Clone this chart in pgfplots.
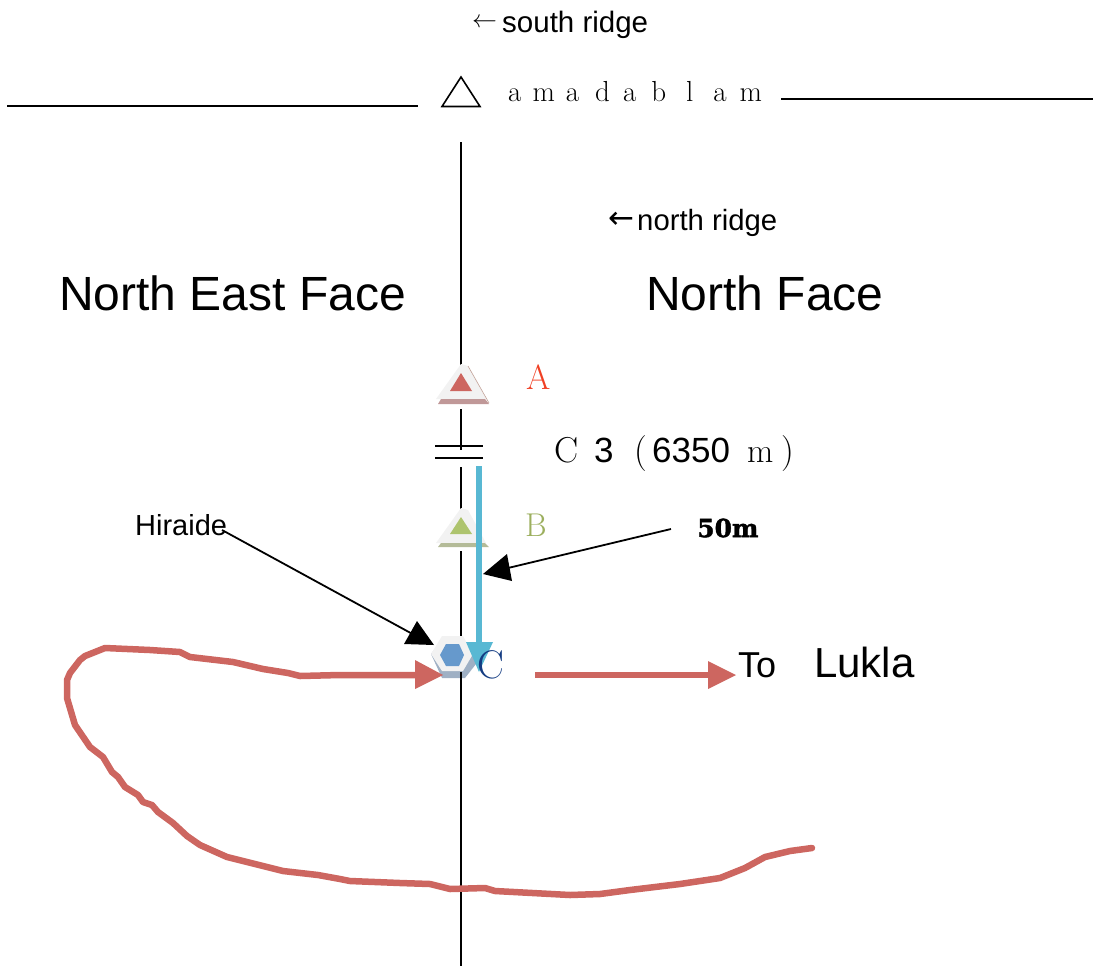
\documentclass[border=0pt]{standalone}
\usepackage{pgfplots}
\pgfplotsset{compat=1.18}
\usepackage{fontspec}
\newfontfamily\sansf{Liberation Sans}
\newfontfamily\dejavu{DejaVu Sans}
\newfontfamily\heavy[BoldFeatures={FakeBold=1.6}]{DejaVu Serif}
\newcommand{\fs}[1]{\fontsize{#1}{#1}\selectfont}
\definecolor{rust}{HTML}{CD6660}
\definecolor{sky}{HTML}{58B8D3}
\definecolor{pale}{HTML}{F2F2F2}
\begin{document}
\begin{tikzpicture}
\begin{axis}[
  scale only axis, width=1094pt, height=966pt,
  xmin=0, xmax=1094, ymin=0, ymax=966, y dir=reverse,
  hide axis, clip=false, no markers,
  every axis plot/.append style={forget plot},
]
% page extent
\addplot[draw=white, opacity=0, line width=0pt] coordinates {(0,0) (1094,966)};
% horizon lines and summit
\addplot[black, line width=1.5pt] coordinates {(7,106) (418,106)};
\addplot[black, line width=1.5pt] coordinates {(781,99) (1093,99)};
\addplot[black, line width=1.6pt, line join=miter] coordinates {(461,77) (442,106.5) (480,106.5)} -- cycle;
% central line, in its segments
\addplot[black, line width=1.5pt] coordinates {(461,142) (461,366)};
\addplot[black, line width=1.5pt] coordinates {(461,409) (461,450)};
\addplot[black, line width=1.5pt] coordinates {(461,467) (461,509)};
\addplot[black, line width=1.5pt] coordinates {(461,551) (461,640)};
\addplot[black, line width=1.5pt] coordinates {(435,446) (483,446)};
\addplot[black, line width=1.5pt] coordinates {(435,458) (483,458)};
% camp A
\addplot[fill=pale, draw=none] coordinates {(461,364) (468,366) (486,399) (436,399)} -- cycle;
\addplot[fill={rgb,255:red,192;green,152;blue,152}, draw=none] coordinates {(441,399) (485,399) (489,404) (438,404)} -- cycle;
\addplot[color={rgb,255:red,192;green,160;blue,150}, line width=0.6pt] coordinates {(468,366) (489,403)};
\addplot[fill=rust, draw=none] coordinates {(461,373) (472,391) (450,391)} -- cycle;
% camp B
\addplot[fill=pale, draw=none] coordinates {(461,508) (468,510) (486,543) (436,543)} -- cycle;
\addplot[fill={rgb,255:red,180;green,187;blue,152}, draw=none] coordinates {(441,543) (485,543) (489,547) (438,547)} -- cycle;
\addplot[fill={rgb,255:red,174;green,196;blue,110}, draw=none] coordinates {(461,517) (472,534) (450,534)} -- cycle;
% camp C hexagon
\addplot[fill={rgb,255:red,159;green,176;blue,196}, draw=none] coordinates {(431,654) (442,678) (465,678) (476,664) (473,654) (462,640) (442,640)} -- cycle;
\addplot[fill=pale, draw=none] coordinates {(431,654) (442,636) (463,636) (473,654) (463,671) (442,671)} -- cycle;
\addplot[fill={rgb,255:red,102;green,153;blue,204}, draw=none] coordinates {(440,655) (446,644) (459,644) (464,655) (459,666) (446,666)} -- cycle;
\addplot[black, line width=1.5pt] coordinates {(461,672) (461,966)};
% 50 m fall line
\addplot[color=sky, line width=6.5pt] coordinates {(479,466) (479,645)};
\addplot[fill=sky, draw=none] coordinates {(466,642) (493,642) (479,672)} -- cycle;
% route
\addplot[color=rust, line width=6.5pt, line join=round, line cap=round] coordinates {
(415,675) (340,675) (300,676) (288,673) (263,669) (233,662) (190,657) (180,652) (150,650) (105,648)
(85,656) (80,660) (70,673) (67,680) (67,698) (75,725) (90,747) (103,757) (112,772) (118,777)
(125,787) (138,795) (143,802) (152,805) (158,812) (173,823) (187,836) (200,845) (227,857) (283,871)
(318,875) (340,879) (350,881) (400,883) (430,884) (450,889) (485,888) (495,891) (570,895) (600,894)
(630,890) (680,884) (720,878) (745,868) (765,857) (790,851) (812,848)};
\addplot[fill=rust, draw=none] coordinates {(415,660) (443,675) (415,689)} -- cycle;
\addplot[color=rust, line width=6.5pt] coordinates {(535,675) (710,675)};
\addplot[fill=rust, draw=none] coordinates {(708,661) (736,675) (708,689)} -- cycle;
% black pointers
\addplot[black, line width=1.8pt] coordinates {(222,530) (418,637)};
\addplot[fill=black, draw=none] coordinates {(417,621) (434,645) (404,644)} -- cycle;
\addplot[black, line width=1.8pt] coordinates {(671,529) (508,568)};
\addplot[fill=black, draw=none] coordinates {(507,554) (512,581) (483,574)} -- cycle;
% texts
\node[anchor=west, inner sep=0pt] at (axis cs:472,23) {\fs{42}$\leftarrow$};
\node[anchor=west, inner sep=0pt] at (axis cs:502,24.5) {\fs{29.5}\sansf south ridge};
\node[anchor=west, inner sep=0pt] at (axis cs:608,220) {\fs{31}\dejavu ←};
\node[anchor=west, inner sep=0pt] at (axis cs:637,223) {\fs{29.3}\sansf north ridge};
\node[anchor=west, inner sep=0pt] at (axis cs:59,293) {\fs{48}\sansf North East Face};
\node[anchor=west, inner sep=0pt] at (axis cs:646,293) {\fs{48}\sansf North Face};
\node[anchor=base west, inner sep=0pt] at (axis cs:508,101) {\fs{29}a\hspace{11pt}m\hspace{11pt}a\hspace{16pt}d\hspace{13pt}a\hspace{15pt}b\hspace{20pt}l\hspace{20pt}a\hspace{13pt}m};
\node[anchor=base west, inner sep=0pt, text={rgb,255:red,240;green,64;blue,36}] at (axis cs:526,389) {\fs{35}A};
\node[anchor=base west, inner sep=0pt, text={rgb,255:red,156;green,175;blue,94}] at (axis cs:525,536) {\fs{33}B};
\node[anchor=base west, inner sep=0pt, text={rgb,255:red,20;green,60;blue,130}] at (axis cs:477,678) {\fs{40}C};
\node[anchor=base west, inner sep=0pt] at (axis cs:554,462) {\fs{36}C};
\node[anchor=base west, inner sep=0pt] at (axis cs:594,462) {\fs{35}\sansf 3};
\node[anchor=base west, inner sep=0pt] at (axis cs:634,462) {\fs{36}(};
\node[anchor=base west, inner sep=0pt] at (axis cs:652,462) {\fs{35}\sansf 6350};
\node[anchor=base west, inner sep=0pt] at (axis cs:747,462) {\fs{34}m};
\node[anchor=base west, inner sep=0pt] at (axis cs:781,462) {\fs{36})};
\node[anchor=west, inner sep=0pt] at (axis cs:135,525) {\fs{29}\sansf Hiraide};
\node[anchor=west, inner sep=0pt] at (axis cs:697,528) {\fs{25}\heavy\bfseries 50m};
\node[anchor=base west, inner sep=0pt] at (axis cs:738,677) {\fs{36}\sansf To};
\node[anchor=base west, inner sep=0pt] at (axis cs:814,677) {\fs{42}\sansf Lukla};
\end{axis}
\end{tikzpicture}
\end{document}
